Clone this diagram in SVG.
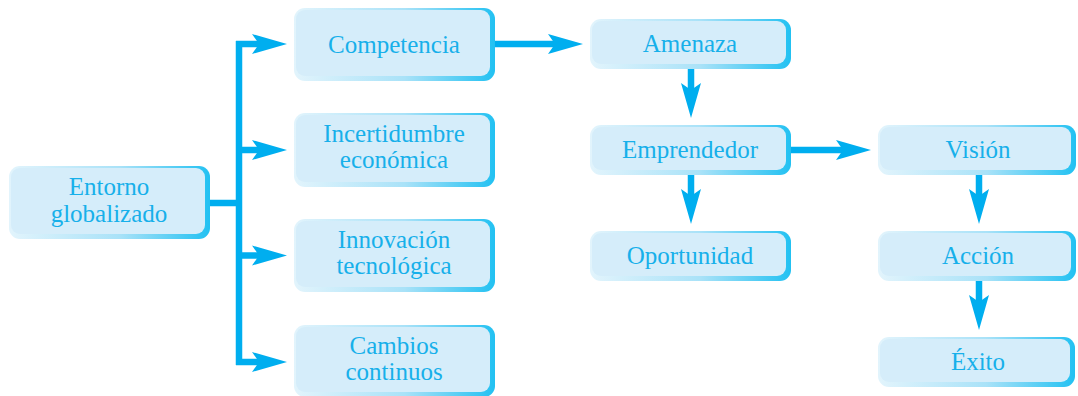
<svg xmlns="http://www.w3.org/2000/svg" width="1078" height="396" viewBox="0 0 1078 396">
<style>
.t{font-family:"Liberation Serif","Times New Roman",serif;font-size:25px;fill:#17b0ea;text-anchor:middle}
.c{fill:none;stroke:#00aeef;stroke-width:6.5}
.a{fill:none;stroke:#00aeef;stroke-width:6.5;marker-end:url(#ah)}
.o{fill:url(#bg)}
.i{fill:#d5edfa}
</style>
<defs>
<linearGradient id="bg" x1="0" y1="0" x2="1" y2="0">
<stop offset="0" stop-color="#e2f4fc"/>
<stop offset="0.55" stop-color="#a9e2f8"/>
<stop offset="1" stop-color="#22c1f2"/>
</linearGradient>
<marker id="ah" markerUnits="userSpaceOnUse" markerWidth="36" markerHeight="22" viewBox="0 0 36 22" refX="7" refY="11" orient="auto">
<path d="M0,1 L35,11 L0,21 L7,11 Z" fill="#00aeef"/>
</marker>
</defs>
<g id="connectors">
<path class="c" d="M210,203 H242"/>
<path class="c" d="M239,41 V365"/>
<path class="a" d="M236,44 H259"/>
<path class="a" d="M236,150 H259"/>
<path class="a" d="M236,255.5 H259"/>
<path class="a" d="M236,362 H259"/>
<path class="a" d="M495,44 H555"/>
<path class="a" d="M691,69 V90"/>
<path class="a" d="M691,175 V196"/>
<path class="a" d="M791,150 H843"/>
<path class="a" d="M979,175 V196"/>
<path class="a" d="M979,281 V302"/>
</g>
<g id="entorno">
<rect class="o" x="9" y="166" width="201" height="73" rx="11"/>
<rect class="i" x="11" y="168" width="194" height="66" rx="9"/>
<text class="t" x="109" y="195">Entorno</text>
<text class="t" x="109" y="222">globalizado</text>
</g>
<g id="competencia">
<rect class="o" x="294" y="8" width="201" height="73" rx="11"/>
<rect class="i" x="296" y="10" width="194" height="66" rx="9"/>
<text class="t" x="394" y="53">Competencia</text>
</g>
<g id="incertidumbre">
<rect class="o" x="294" y="113" width="201" height="74" rx="11"/>
<rect class="i" x="296" y="115" width="194" height="67" rx="9"/>
<text class="t" x="394" y="142">Incertidumbre</text>
<text class="t" x="394" y="168">económica</text>
</g>
<g id="innovacion">
<rect class="o" x="294" y="219" width="201" height="73" rx="11"/>
<rect class="i" x="296" y="221" width="194" height="66" rx="9"/>
<text class="t" x="394" y="248">Innovación</text>
<text class="t" x="394" y="274">tecnológica</text>
</g>
<g id="cambios">
<rect class="o" x="294" y="325" width="201" height="72" rx="11"/>
<rect class="i" x="296" y="327" width="194" height="65" rx="9"/>
<text class="t" x="394" y="354">Cambios</text>
<text class="t" x="394" y="380">continuos</text>
</g>
<g id="amenaza">
<rect class="o" x="590" y="19" width="201" height="50" rx="11"/>
<rect class="i" x="592" y="21" width="194" height="43" rx="9"/>
<text class="t" x="690" y="52">Amenaza</text>
</g>
<g id="emprendedor">
<rect class="o" x="590" y="125" width="201" height="50" rx="11"/>
<rect class="i" x="592" y="127" width="194" height="43" rx="9"/>
<text class="t" x="690" y="158">Emprendedor</text>
</g>
<g id="oportunidad">
<rect class="o" x="590" y="231" width="201" height="50" rx="11"/>
<rect class="i" x="592" y="233" width="194" height="43" rx="9"/>
<text class="t" x="690" y="264">Oportunidad</text>
</g>
<g id="vision">
<rect class="o" x="878" y="125" width="198" height="50" rx="11"/>
<rect class="i" x="880" y="127" width="191" height="43" rx="9"/>
<text class="t" x="978" y="158">Visión</text>
</g>
<g id="accion">
<rect class="o" x="878" y="231" width="198" height="50" rx="11"/>
<rect class="i" x="880" y="233" width="191" height="43" rx="9"/>
<text class="t" x="978" y="264">Acción</text>
</g>
<g id="exito">
<rect class="o" x="878" y="337" width="197" height="50" rx="11"/>
<rect class="i" x="880" y="339" width="190" height="43" rx="9"/>
<text class="t" x="978" y="370">Éxito</text>
</g>
</svg>
